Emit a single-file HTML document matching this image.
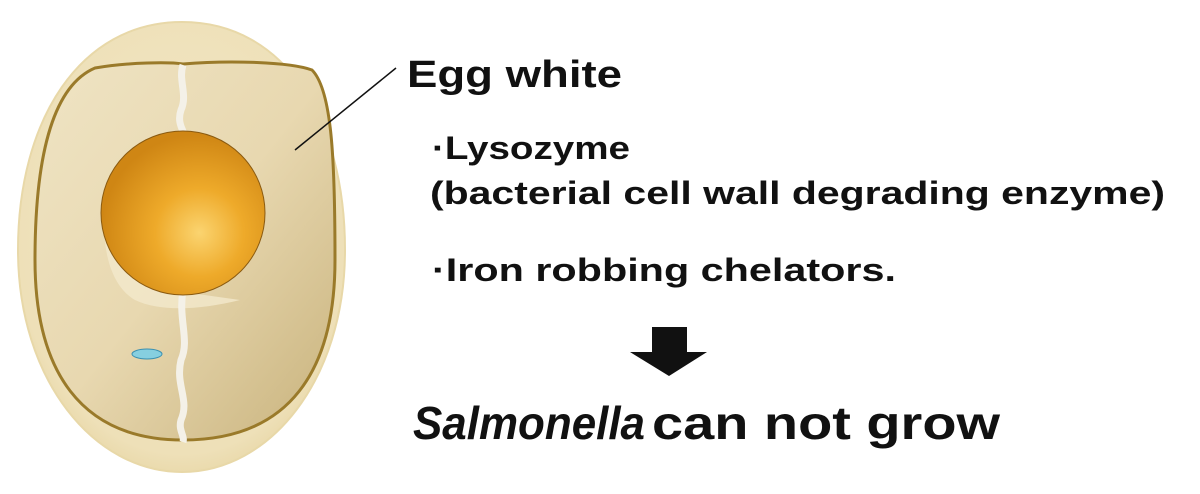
<!DOCTYPE html>
<html><head><meta charset="utf-8"><style>
html,body{margin:0;padding:0;background:#fff;}
svg{display:block;}
text{font-family:"Liberation Sans","DejaVu Sans",sans-serif;fill:#111;font-weight:bold;}
</style></head><body>
<svg width="1200" height="494" viewBox="0 0 1200 494" xmlns="http://www.w3.org/2000/svg">
<defs>
<radialGradient id="shell" cx="0.5" cy="0.45" r="0.6">
<stop offset="0" stop-color="#f3e8c8"/><stop offset="0.85" stop-color="#eee0b8"/><stop offset="1" stop-color="#e6d4a0"/>
</radialGradient>
<linearGradient id="white" x1="0" y1="0" x2="1" y2="1">
<stop offset="0" stop-color="#efe4c4"/><stop offset="0.5" stop-color="#e8d8b0"/><stop offset="1" stop-color="#c8b27c"/>
</linearGradient>
<radialGradient id="yolk" cx="0.6" cy="0.62" r="0.6">
<stop offset="0" stop-color="#fbd470"/><stop offset="0.45" stop-color="#eeaa2a"/><stop offset="1" stop-color="#cf8614"/>
</radialGradient>
</defs>
<path d="M182,22 C285,22 345,120 345,250 C345,380 270,472 182,472 C94,472 18,380 18,250 C18,120 80,22 182,22 Z" fill="url(#shell)" stroke="#e8d8a8" stroke-width="2"/>
<path d="M95,68 C130,62 170,62 183,64 C230,60 290,62 312,70 C332,90 335,160 335,260 C335,370 290,440 183,440 C80,440 35,370 35,260 C35,150 55,85 95,68 Z" fill="url(#white)" stroke="#9a7a2a" stroke-width="3"/>
<path d="M120,160 C95,210 100,280 135,300 C160,312 200,310 240,300 L183,292 C130,290 105,240 120,160 Z" fill="#f2e9cc" opacity="0.8"/>
<path d="M183,65 C178,80 188,95 181,110 C176,125 186,132 183,135" fill="none" stroke="#f4f1e8" stroke-width="7"/>
<path d="M183,290 C178,320 190,340 181,360 C175,385 190,400 181,420 C178,430 185,436 183,442" fill="none" stroke="#f4f1e8" stroke-width="7"/>
<circle cx="183" cy="213" r="82" fill="url(#yolk)" stroke="#8a5a10" stroke-width="1"/>
<ellipse cx="147" cy="354" rx="15" ry="5" fill="#86cfe0" stroke="#3a8fb0" stroke-width="1"/>
<line x1="396" y1="68" x2="295" y2="150" stroke="#111" stroke-width="1.5"/>
<text x="407" y="87" font-size="38" textLength="215" lengthAdjust="spacingAndGlyphs">Egg white</text>
<text x="432" y="159" font-size="32" textLength="198" lengthAdjust="spacingAndGlyphs">·Lysozyme</text>
<text x="430" y="204" font-size="32" textLength="735" lengthAdjust="spacingAndGlyphs">(bacterial cell wall degrading enzyme)</text>
<text x="432" y="281" font-size="32" textLength="464" lengthAdjust="spacingAndGlyphs">·Iron robbing chelators.</text>
<path d="M652,327 L687,327 L687,352 L707,352 L669,376 L630,352 L652,352 Z" fill="#111"/>
<text x="413" y="439" font-size="46" font-style="italic" textLength="232" lengthAdjust="spacingAndGlyphs">Salmonella</text>
<text x="652" y="439" font-size="46" textLength="348" lengthAdjust="spacingAndGlyphs">can not grow</text>
</svg>
</body></html>
